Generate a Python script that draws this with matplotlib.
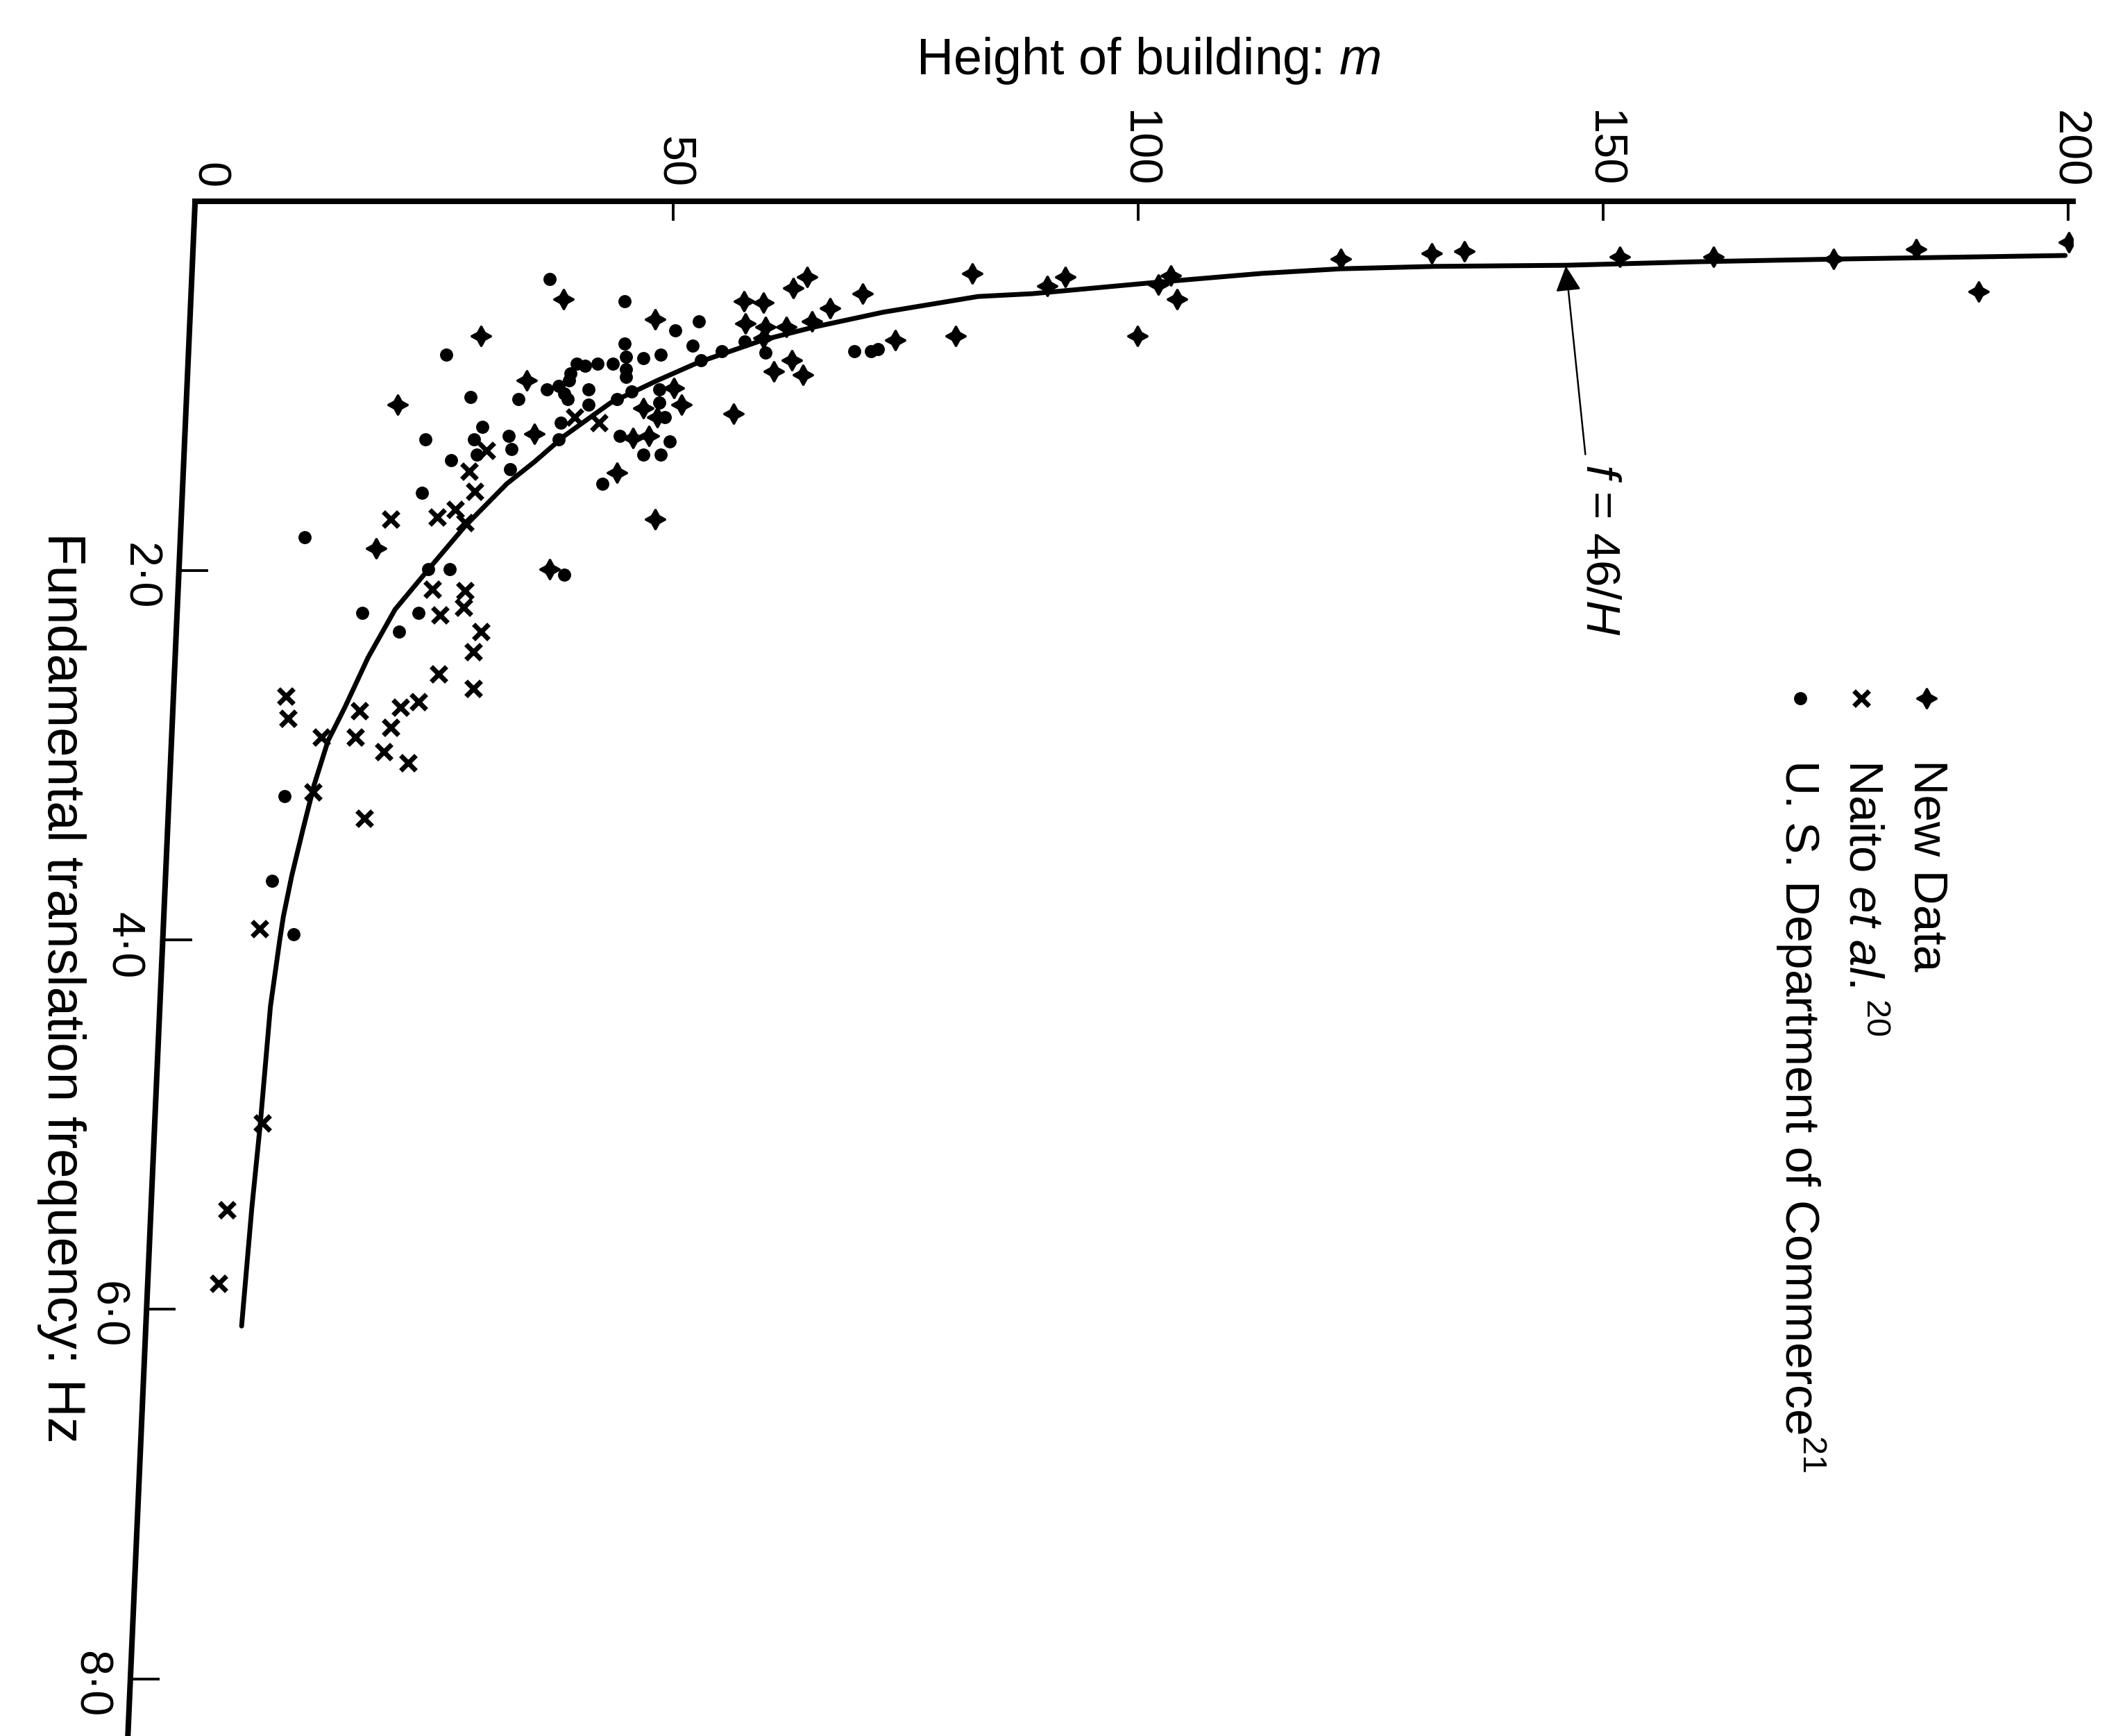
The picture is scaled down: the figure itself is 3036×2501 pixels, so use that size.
import matplotlib
matplotlib.use('Agg')
import matplotlib.pyplot as plt

plt.rcParams['font.family'] = ['Liberation Sans', 'DejaVu Sans']
plt.rcParams['mathtext.fontset'] = 'custom'
plt.rcParams['mathtext.rm'] = 'Liberation Sans'
plt.rcParams['mathtext.it'] = 'Liberation Sans:italic'

# height of building (m) and fundamental frequency (Hz)
new_h = [38.2, 48.1, 29.3, 34.3, 20.4, 35.1, 18.1, 45.7, 47.4, 44.0, 48.1, 36.7,
         46.8, 48.3, 57.6, 59.7, 62.9, 64.4, 70.4, 66.9, 57.8, 59.9, 62.2, 64.9,
         59.7, 62.8, 60.8, 64.0, 73.9, 80.4, 82.2, 56.5, 50.9, 50.1,
         90.2, 92.2, 102.2, 103.5, 99.9, 104.2,
         121.8, 131.6, 135.1, 151.8, 161.9, 174.8, 183.7, 190.4, 200.1]
new_f = [0.53, 0.64, 0.73, 0.97, 1.10, 1.26, 1.88, 1.28, 1.27, 1.47, 1.72, 1.99,
         1.12, 1.17, 0.54, 0.55, 0.47, 0.41, 0.50, 0.58, 0.66, 0.68, 0.68, 0.65,
         0.74, 0.86, 0.92, 0.94, 0.75, 0.73, 0.39, 1.15, 1.10, 1.01,
         0.46, 0.41, 0.45, 0.40, 0.73, 0.53,
         0.31, 0.28, 0.27, 0.30, 0.30, 0.31, 0.26, 0.49, 0.22]

naito_h = [39.4, 42.0, 29.9, 28.1, 28.7, 19.6, 24.6, 26.6, 27.6, 24.1, 27.6,
           27.5, 24.9, 29.3, 28.5, 24.8, 28.5, 8.4, 8.6, 16.3, 20.7, 22.6,
           12.2, 15.8, 19.6, 18.9, 21.5, 11.3, 16.8, 5.5, 5.8, 2.0, 1.1]
naito_f = [1.17, 1.20, 1.35, 1.46, 1.57, 1.72, 1.71, 1.67, 1.74, 2.10, 2.11,
           2.20, 2.24, 2.33, 2.44, 2.56, 2.64, 2.68, 2.80, 2.76, 2.74, 2.71,
           2.90, 2.90, 2.85, 2.98, 3.04, 3.20, 3.34, 3.94, 4.99, 5.46, 5.86]

usdc_h = [36.7, 44.8, 25.6, 44.8, 44.9, 44.9, 44.9, 46.8, 48.7, 39.6, 40.5, 41.9,
          43.5, 39.0, 38.8, 36.4, 37.7, 38.3, 38.7, 40.9, 40.9, 28.2, 33.4, 37.9,
          29.5, 23.4, 28.6, 32.3, 32.6, 28.9, 37.7, 26.1, 32.5, 23.0, 23.7, 26.0,
          44.3, 46.8, 48.7, 42.4, 38.3, 48.5, 44.0, 45.5,
          50.2, 52.8, 52.1, 59.9, 57.7, 55.2, 53.0, 69.5, 71.3, 72.0, 48.5, 49.1, 49.6,
          10.4, 16.6, 22.6, 20.5, 8.2, 6.9, 9.2]
usdc_f = [0.42, 0.54, 0.83, 0.77, 0.84, 0.91, 0.95, 0.85, 0.83, 0.88, 0.89, 0.88,
          0.88, 0.93, 0.97, 1.02, 1.00, 1.04, 1.07, 1.02, 1.10, 1.06, 1.07, 1.20,
          1.22, 1.29, 1.29, 1.27, 1.34, 1.37, 1.29, 1.40, 1.45, 1.58, 1.99, 1.99,
          1.27, 1.37, 1.37, 1.53, 2.02, 1.09, 1.07, 1.03,
          0.70, 0.65, 0.78, 0.82, 0.76, 0.81, 0.86, 0.81, 0.81, 0.80, 1.02, 1.17, 1.30,
          1.82, 2.23, 2.23, 2.33, 3.22, 3.68, 3.97]

# the hand drawn f = 46/H line
curve_h = [3.6, 4.7, 5.6, 6.7, 7.7, 8.1, 9.0, 10.2, 11.4, 12.9, 14.7, 17.2, 20.1,
           23.9, 27.6, 32.1, 35.1, 38.3, 43.3, 48.3, 52.8, 59.7, 65.2, 72.6, 82.8,
           88.6, 101.6, 113.3, 121.8, 131.9, 146.0, 160.0, 175.6, 199.7]
curve_f = [6.09, 5.45, 5.00, 4.36, 4.00, 3.87, 3.65, 3.40, 3.16, 2.92, 2.74, 2.47, 2.21,
           1.98, 1.76, 1.53, 1.41, 1.27, 1.09, 0.97, 0.87, 0.75, 0.68, 0.60, 0.515,
           0.50, 0.44, 0.39, 0.365, 0.352, 0.346, 0.327, 0.312, 0.293]

h_ticks = [0, 50, 100, 150, 200]
h_labels = ['0', '50', '100', '150', '200']
f_ticks = [2, 4, 6, 8]
f_labels = ['2\u00b70', '4\u00b70', '6\u00b70', '8\u00b70']

legend_labels = ['New Data', 'Naito $et\\ al.^{20}$',
                 'U. S. Department of Commerce$^{21}$']

F_MAX = 8.31
# the scanned frequency axis leans to the left as it goes down
AXIS_TOP = -1.4
AXIS_LEAN = -0.87


def axis_h(f):
    return AXIS_TOP + AXIS_LEAN * f


def main() -> None:
    fig = plt.figure(figsize=(15.18, 12.505), dpi=200)
    ax = fig.add_axes([0.0926, 0.0, 0.8911, 0.884])

    ax.plot(curve_h, curve_f, color='black', lw=2.5, solid_capstyle='round',
            solid_joinstyle='round', zorder=2)
    ax.plot(new_h, new_f, linestyle='none', marker=(4, 1, 0), ms=10.5,
            color='black', zorder=3)
    ax.plot(naito_h, naito_f, linestyle='none', marker='x', ms=8, mew=2.5,
            color='black', zorder=3)
    ax.plot(usdc_h, usdc_f, linestyle='none', marker='o', ms=5.8,
            color='black', zorder=3)

    ax.set_xlim(AXIS_TOP, 200.5)
    ax.set_ylim(F_MAX, 0)

    for side in ['right', 'bottom', 'left']:
        ax.spines[side].set_visible(False)
    ax.spines['top'].set_linewidth(2.9)

    ax.xaxis.tick_top()
    ax.set_xticks(h_ticks)
    ax.set_xticklabels(h_labels, rotation=270)
    ax.tick_params(axis='x', direction='in', length=10, width=1.4, pad=7,
                   labelsize=24)
    # the zero sits on the corner, no tick mark there
    ax.xaxis.get_major_ticks()[0].tick2line.set_visible(False)
    ax.set_yticks([])

    # frequency axis, drawn by hand to follow the lean of the page
    ax.plot([axis_h(0), axis_h(F_MAX)], [0, F_MAX], color='black', lw=2.9,
            solid_capstyle='projecting', clip_on=False, zorder=4)
    for f, lab in zip(f_ticks, f_labels):
        ax.plot([axis_h(f), axis_h(f) + 3.0], [f, f], color='black', lw=1.4,
                clip_on=False, zorder=4)
        ax.text(axis_h(f) - 2.0, f + 0.03, lab, rotation=270, ha='right',
                va='center', fontsize=24)

    # annotation of the fitted line
    ax.annotate('', xy=(146.0, 0.35), xytext=(148.1, 1.37),
                arrowprops=dict(arrowstyle='-|>', color='black', lw=0.9,
                                mutation_scale=28, shrinkA=0, shrinkB=0))
    ax.text(149.6, 1.42, '$f$ = 46/$H$', rotation=270, ha='center', va='top',
            fontsize=25)

    # legend, drawn rotated like the rest of the page
    leg_h = [184.8, 177.8, 171.2]
    leg_markers = [dict(marker=(4, 1, 0), ms=10.5),
                   dict(marker='x', ms=8, mew=2.5),
                   dict(marker='o', ms=5.8)]
    for h, lab, mk in zip(leg_h, legend_labels, leg_markers):
        ax.plot([h], [2.69], linestyle='none', color='black', **mk)
        ax.text(h, 3.02, lab, rotation=270, ha='center', va='top', fontsize=25)

    fig.text(0.545, 0.965, 'Height of building: $m$', ha='center', va='center',
             fontsize=26.5)
    fig.text(0.029, 0.431, 'Fundamental translation frequency: Hz', rotation=270,
             ha='center', va='center', fontsize=27.5)

    fig.savefig('out.png', dpi=200, facecolor='white')
    plt.close(fig)


if __name__ == '__main__':
    main()
